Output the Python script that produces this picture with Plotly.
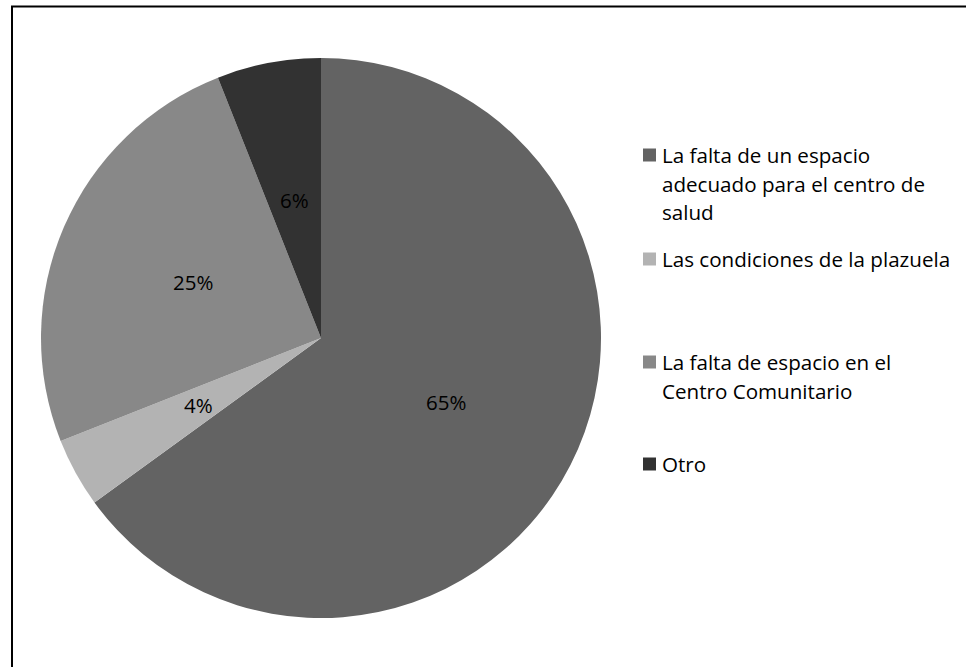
import math
import plotly.graph_objects as go

# Survey answers and their shares (%)
categories = [
    "La falta de un espacio adecuado para el centro de salud",
    "Las condiciones de la plazuela",
    "La falta de espacio en el Centro Comunitario",
    "Otro",
]
values = [65, 4, 25, 6]
legend_lines = [
    ["La falta de un espacio", "adecuado para el centro de", "salud"],
    ["Las condiciones de la plazuela"],
    ["La falta de espacio en el", "Centro Comunitario"],
    ["Otro"],
]
colors = ["#636363", "#b3b3b3", "#888888", "#323232"]

W, H = 966, 667
FONT = "Open Sans"

# Pie geometry in pixels
cx, cy, r = 321, 338, 280

fig = go.Figure(
    go.Pie(
        labels=categories,
        values=values,
        sort=False,
        direction="clockwise",
        rotation=0,
        marker=dict(colors=colors, line=dict(width=0)),
        textinfo="none",
        hoverinfo="label+percent",
        showlegend=False,
        domain=dict(
            x=[(cx - r) / W, (cx + r) / W],
            y=[1 - (cy + r) / H, 1 - (cy - r) / H],
        ),
    )
)

annotations = []
shapes = []

# Percentage labels placed halfway along each slice's middle angle
total = sum(values)
start = 0.0
for v in values:
    span = 360.0 * v / total
    mid = math.radians(start + span / 2)
    px = cx + 0.5 * r * math.sin(mid)
    py = cy - 0.5 * r * math.cos(mid)
    annotations.append(
        dict(
            x=px / W, y=1 - py / H, xref="paper", yref="paper",
            text=f"{round(100 * v / total)}%", showarrow=False,
            xanchor="center", yanchor="middle",
            font=dict(family=FONT, size=20.5, color="#000000"),
        )
    )
    start += span

# Hand-laid legend on the right
entry_y = [155, 259, 362, 464]
line_gap = 28.5
box_x0, box_size, text_x = 643, 13, 660
for lines, color, y0 in zip(legend_lines, colors, entry_y):
    shapes.append(
        dict(
            type="rect", xref="paper", yref="paper",
            x0=box_x0 / W, x1=(box_x0 + box_size) / W,
            y0=1 - (y0 + box_size / 2) / H, y1=1 - (y0 - box_size / 2) / H,
            fillcolor=color, line=dict(width=0),
        )
    )
    for i, line in enumerate(lines):
        annotations.append(
            dict(
                x=text_x / W, y=1 - (y0 + i * line_gap) / H,
                xref="paper", yref="paper", text=line, showarrow=False,
                xanchor="left", yanchor="middle",
                font=dict(family=FONT, size=20.6, color="#000000"),
            )
        )

# Outer chart frame
shapes.append(
    dict(
        type="rect", xref="paper", yref="paper",
        x0=12 / W, x1=1.02, y0=-0.02, y1=1 - 6.5 / H,
        line=dict(color="#000000", width=2), fillcolor="rgba(0,0,0,0)",
    )
)

fig.update_layout(
    width=W, height=H,
    margin=dict(l=0, r=0, t=0, b=0),
    paper_bgcolor="#ffffff",
    plot_bgcolor="#ffffff",
    annotations=annotations,
    shapes=shapes,
)

fig.write_html("out.html")
